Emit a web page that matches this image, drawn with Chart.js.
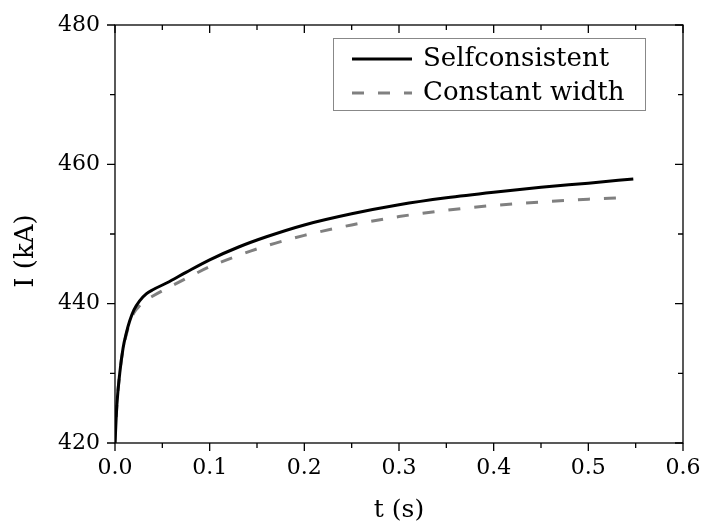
<!DOCTYPE html>
<html>
<head>
<meta charset="utf-8">
<script src="https://cdn.jsdelivr.net/npm/chart.js@4/dist/chart.umd.min.js"></script>
<style>
    html, body { margin: 0; padding: 0; background: #fff; }
    #wrap { width: 702px; height: 522px; }
</style>
</head>
<body>
<div id="wrap"><canvas id="currentChart"></canvas></div>
<script>
// values
const selfT = [0, 0.002, 0.005, 0.0085, 0.012, 0.0155, 0.02, 0.026, 0.033, 0.04, 0.055, 0.075, 0.1, 0.13, 0.16, 0.2, 0.25, 0.3, 0.35, 0.4, 0.45, 0.5, 0.5475];
const selfI = [420, 425.5, 430, 433.6, 435.8, 437.5, 439.1, 440.4, 441.4, 442.0, 443.0, 444.5, 446.3, 448.1, 449.6, 451.3, 452.9, 454.2, 455.2, 456.0, 456.7, 457.3, 457.9];
const constT = [0, 0.002, 0.005, 0.0085, 0.012, 0.0155, 0.02, 0.026, 0.033, 0.04, 0.055, 0.075, 0.1, 0.13, 0.16, 0.2, 0.25, 0.3, 0.35, 0.4, 0.45, 0.5, 0.533];
const constI = [420, 425.5, 430, 433.5, 435.6, 437.3, 438.7, 439.7, 440.5, 441.1, 442.2, 443.6, 445.3, 446.9, 448.3, 449.8, 451.3, 452.5, 453.4, 454.1, 454.6, 455.0, 455.2];
const xTicks = [0, 0.1, 0.2, 0.3, 0.4, 0.5, 0.6];
const xMinor = [0.05, 0.15, 0.25, 0.35, 0.45, 0.55];
const yTicks = [420, 440, 460, 480];
const yMinor = [430, 450, 470];

const FONT = "'DejaVu Serif', serif";

function toPoints(xs, ys) {
    return xs.map(function (x, i) { return { x: x, y: ys[i] }; });
}

// frame, ticks on all sides, y title and boxed legend
const framePlugin = {
    id: 'frame',
    afterDraw: function (chart) {
        const ctx = chart.ctx;
        const a = chart.chartArea;
        const xs = chart.scales.x;
        const ys = chart.scales.y;
        ctx.save();
        ctx.strokeStyle = '#000';
        ctx.lineWidth = 1.3;
        ctx.strokeRect(a.left, a.top, a.right - a.left, a.bottom - a.top);

        function tickX(v, len) {
            const p = xs.getPixelForValue(v);
            ctx.beginPath();
            ctx.moveTo(p, a.bottom); ctx.lineTo(p, a.bottom + len);
            ctx.moveTo(p, a.top); ctx.lineTo(p, a.top + len);
            ctx.stroke();
        }
        function tickY(v, len) {
            const p = ys.getPixelForValue(v);
            ctx.beginPath();
            ctx.moveTo(a.left, p); ctx.lineTo(a.left - len, p);
            ctx.moveTo(a.right, p); ctx.lineTo(a.right - len, p);
            ctx.stroke();
        }
        xTicks.forEach(function (v) { tickX(v, 8); });
        xMinor.forEach(function (v) { tickX(v, 5); });
        yTicks.forEach(function (v) { tickY(v, 8); });
        yMinor.forEach(function (v) { tickY(v, 5); });

        // y axis title
        ctx.save();
        ctx.translate(26, 251);
        ctx.rotate(-Math.PI / 2);
        ctx.fillStyle = '#000';
        ctx.font = '26px ' + FONT;
        ctx.textAlign = 'center';
        ctx.textBaseline = 'middle';
        ctx.fillText('I (kA)', 0, 0);
        ctx.restore();

        // legend
        ctx.strokeStyle = '#888';
        ctx.lineWidth = 1;
        ctx.strokeRect(333.5, 38.5, 312, 72);
        ctx.font = '26px ' + FONT;
        ctx.textBaseline = 'middle';
        ctx.textAlign = 'left';
        chart.data.datasets.forEach(function (ds, i) {
            const y = 59 + i * 34;
            ctx.beginPath();
            ctx.strokeStyle = ds.borderColor;
            ctx.lineWidth = ds.borderWidth;
            ctx.setLineDash(ds.borderDash || []);
            ctx.moveTo(352, y); ctx.lineTo(412, y);
            ctx.stroke();
            ctx.setLineDash([]);
            ctx.fillStyle = '#000';
            ctx.fillText(ds.label, 423, y);
        });
        ctx.restore();
    }
};

new Chart(document.getElementById('currentChart'), {
    type: 'scatter',
    data: {
        datasets: [
            {
                label: 'Selfconsistent',
                data: toPoints(selfT, selfI),
                showLine: true,
                borderColor: '#000000',
                borderWidth: 3,
                pointRadius: 0,
                cubicInterpolationMode: 'monotone',
                fill: false
            },
            {
                label: 'Constant width',
                data: toPoints(constT, constI),
                showLine: true,
                borderColor: '#808080',
                borderWidth: 3,
                borderDash: [12, 14],
                pointRadius: 0,
                cubicInterpolationMode: 'monotone',
                fill: false
            }
        ]
    },
    options: {
        responsive: true,
        maintainAspectRatio: false,
        animation: false,
        layout: { padding: { top: 25, right: 19, left: 0, bottom: 0 } },
        plugins: {
            legend: { display: false },
            tooltip: { enabled: false }
        },
        scales: {
            x: {
                type: 'linear',
                min: 0,
                max: 0.6,
                grid: { display: false },
                border: { display: false },
                ticks: {
                    stepSize: 0.1,
                    color: '#000',
                    padding: 4,
                    maxRotation: 0,
                    font: { family: FONT, size: 22 },
                    callback: function (v) { return Number(v).toFixed(1); }
                },
                title: {
                    display: true,
                    text: 't (s)',
                    color: '#000',
                    font: { family: FONT, size: 25 },
                    padding: { top: 0, bottom: -3 }
                },
                afterFit: function (s) {
                    s.height = 79;
                    s.paddingLeft = 0;
                    s.paddingRight = 0;
                }
            },
            y: {
                type: 'linear',
                min: 420,
                max: 480,
                grid: { display: false },
                border: { display: false },
                ticks: {
                    stepSize: 20,
                    color: '#000',
                    padding: 7,
                    font: { family: FONT, size: 22 }
                },
                afterFit: function (s) {
                    s.width = 115;
                    s.paddingTop = 0;
                    s.paddingBottom = 0;
                }
            }
        }
    },
    plugins: [framePlugin]
});
</script>
</body>
</html>
